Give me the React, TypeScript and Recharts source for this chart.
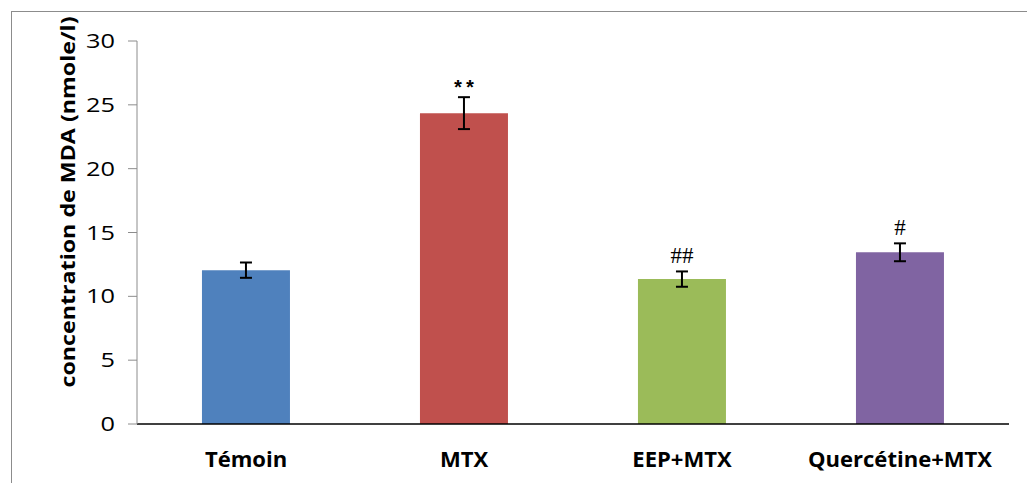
import { Bar, BarChart, Cell, ErrorBar, LabelList, XAxis, YAxis } from "recharts";

const groups = ["Témoin", "MTX", "EEP+MTX", "Quercétine+MTX"];
const mdaMeans = [12.05, 24.35, 11.35, 13.45];
const mdaErrors = [0.6, 1.25, 0.6, 0.7];
const significance = ["", "**", "##", "#"];
const barColors = ["#4F81BD", "#C0504D", "#9BBB59", "#8064A2"];
const yTicks = [0, 5, 10, 15, 20, 25, 30];

const chartData = groups.map((g, i) => ({
  name: g,
  mda: mdaMeans[i],
  err: mdaErrors[i],
  sig: significance[i],
}));

function SigLabel(props: any) {
  const { x, y, width, height, value, index } = props;
  if (!value) return null;
  const pxPerUnit = height / mdaMeans[index];
  const errTop = y - mdaErrors[index] * pxPerUnit;
  const isStar = String(value).includes("*");
  return (
    <text
      x={x + width / 2}
      y={errTop - (isStar ? 2 : 8)}
      textAnchor="middle"
      fontFamily={isStar ? "Liberation Mono" : "Liberation Serif"}
      fontWeight={isStar ? "bold" : "normal"}
      fontSize={isStar ? 20 : 23}
      fill="#000"
    >
      {value}
    </text>
  );
}

function YTick(props: any) {
  const { x, y, payload } = props;
  return (
    <g transform={`translate(${x}, ${y}) scale(1.3, 1)`}>
      <text x={0} y={0} dy="0.36em" textAnchor="end" fontFamily="Open Sans" fontSize={19.5} fill="#000">
        {payload.value}
      </text>
    </g>
  );
}

function XTick(props: any) {
  const { x, payload } = props;
  return (
    <g transform={`translate(${x}, 467) scale(1.05, 1)`}>
      <text x={0} y={0} textAnchor="middle" fontFamily="Open Sans" fontWeight="bold" fontSize={21} fill="#000">
        {payload.value}
      </text>
    </g>
  );
}

function YTitle() {
  return (
    <text
      x={0}
      y={0}
      transform="translate(75, 202) rotate(-90)"
      textAnchor="middle"
      fontFamily="Open Sans"
      fontWeight="bold"
      fontSize={19}
      textLength={371}
      lengthAdjust="spacingAndGlyphs"
      fill="#000"
    >
      concentration de MDA (nmole/l)
    </text>
  );
}

export default function App() {
  return (
    <div style={{ position: "absolute", left: 0, top: 0, width: 1027, height: 483, background: "#fff", overflow: "hidden" }}>
      <div
        style={{
          position: "absolute",
          left: 11,
          top: 11,
          width: 1100,
          height: 600,
          border: "1px solid #8c8c8c",
        }}
      />
      <div style={{ position: "absolute", left: 0, top: 0 }}>
        <BarChart
          width={1027}
          height={483}
          data={chartData}
          margin={{ top: 41, right: 18, bottom: 29, left: 77 }}
          barCategoryGap="29.8%"
        >
          <XAxis
            dataKey="name"
            height={30}
            tickLine={false}
            axisLine={{ stroke: "#000", strokeWidth: 1.5 }}
            tick={<XTick />}
          />
          <YAxis
            width={60}
            domain={[0, 30]}
            ticks={yTicks}
            interval={0}
            axisLine={{ stroke: "#8c8c8c" }}
            tickLine={{ stroke: "#8c8c8c" }}
            tickSize={9}
            tickMargin={13}
            tick={<YTick />}
            label={<YTitle />}
          />
          <Bar dataKey="mda" isAnimationActive={false}>
            {chartData.map((d, i) => (
              <Cell key={d.name} fill={barColors[i]} />
            ))}
            <ErrorBar dataKey="err" width={6} stroke="#000" strokeWidth={2} direction="y" />
            <LabelList dataKey="sig" content={<SigLabel />} />
          </Bar>
        </BarChart>
      </div>
    </div>
  );
}
